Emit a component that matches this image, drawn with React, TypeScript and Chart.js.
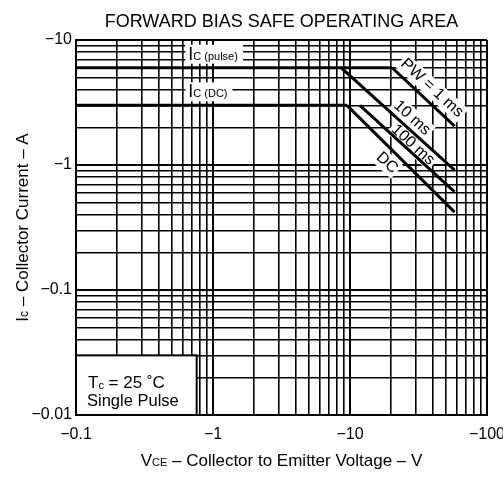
import React, { useEffect, useRef } from 'react';
import { Chart, registerables } from 'chart.js';

Chart.register(...registerables);

const FONT = "'Liberation Sans', Arial, Helvetica, sans-serif";

// ---- text ----
const chartTitle = 'FORWARD BIAS SAFE OPERATING AREA';
const xTickValues = [0.1, 1, 10, 100];
const xTickLabels = ['\u22120.1', '\u22121', '\u221210', '\u2212100'];
const yTickValues = [0.01, 0.1, 1, 10];
const yTickLabels = ['\u22120.01', '\u22120.1', '\u22121', '\u221210'];
const gridMultipliers = [1, 2, 3, 4, 5, 6, 7, 8, 9];

// ---- series (V in volts, A in amperes; magnitudes) ----
const icPulseV = [0.1, 20.3];
const icPulseA = [6, 6];
const icDcV = [0.1, 9.5];
const icDcA = [3, 3];
const pw1msV = [20.3, 58];
const pw1msA = [6, 2.05];
const pw10msV = [8.6, 58];
const pw10msA = [6, 0.91];
const pw100msV = [11.8, 58];
const pw100msA = [3, 0.61];
const dcV = [9.5, 58];
const dcA = [3, 0.42];

// ---- annotation texts ----
const lineLabelTexts = ['PW = 1 ms', '10 ms', '100 ms', 'DC'];
const lineLabelAnchorV = [39.7, 28.4, 28.8, 18.6];
const lineLabelAnchorA = [4.13, 2.38, 1.45, 1.04];

function toPts(vs: number[], as: number[]) {
  return vs.map((v, i) => ({ x: v, y: as[i] }));
}

function gridTicks(min: number, max: number) {
  const out: number[] = [];
  const e0 = Math.round(Math.log10(min));
  const e1 = Math.round(Math.log10(max));
  for (let e = e0; e < e1; e++) {
    for (const m of gridMultipliers) out.push(Number((m * Math.pow(10, e)).toPrecision(6)));
  }
  out.push(max);
  return out;
}

function isDecade(v: number) {
  const l = Math.log10(v);
  return Math.abs(l - Math.round(l)) < 1e-6;
}

function labelFor(values: number[], labels: string[], value: number) {
  const i = values.findIndex((v) => Math.abs(v - value) / v < 1e-6);
  return i >= 0 ? labels[i] : '';
}

type Part = { t: string; size: number; dy?: number };

function partsWidth(ctx: CanvasRenderingContext2D, parts: Part[]) {
  let w = 0;
  for (const p of parts) {
    ctx.font = `${p.size}px ${FONT}`;
    w += ctx.measureText(p.t).width;
  }
  return w;
}

function drawParts(ctx: CanvasRenderingContext2D, parts: Part[], x: number, baseline: number, align: 'left' | 'center') {
  const w = partsWidth(ctx, parts);
  let cx = align === 'center' ? x - w / 2 : x;
  ctx.textAlign = 'left';
  ctx.textBaseline = 'alphabetic';
  ctx.fillStyle = '#000';
  for (const p of parts) {
    ctx.font = `${p.size}px ${FONT}`;
    ctx.fillText(p.t, cx, baseline + (p.dy || 0));
    cx += ctx.measureText(p.t).width;
  }
  return w;
}

const soaText = {
  id: 'soaText',
  beforeDatasetsDraw(chart: any) {
    const { ctx, chartArea } = chart;
    const x = chart.scales.x;
    const y = chart.scales.y;
    ctx.save();

    // Ic labels
    const icParts = (sub: string): Part[] => [
      { t: 'I', size: 18 },
      { t: sub, size: 11, dy: 0 },
    ];
    const lx = x.getPixelForValue(0.66);
    [
      { sub: 'C (pulse)', a: icPulseA[0] },
      { sub: 'C (DC)', a: icDcA[0] },
    ].forEach(({ sub, a }) => {
      const base = y.getPixelForValue(a) - 8;
      const w = partsWidth(ctx, icParts(sub));
      ctx.fillStyle = '#fff';
      ctx.fillRect(lx - 3, base - 15, w + 8, 19);
      drawParts(ctx, icParts(sub), lx, base, 'left');
    });

    // rotated line labels
    const ang = Math.atan2(
      y.getPixelForValue(0.1) - y.getPixelForValue(1),
      x.getPixelForValue(10) - x.getPixelForValue(1)
    );
    lineLabelTexts.forEach((t, i) => {
      const px = x.getPixelForValue(lineLabelAnchorV[i]);
      const py = y.getPixelForValue(lineLabelAnchorA[i]);
      ctx.save();
      ctx.translate(px, py);
      ctx.rotate(ang);
      ctx.font = `16px ${FONT}`;
      const w = ctx.measureText(t).width;
      ctx.fillStyle = '#fff';
      ctx.fillRect(-w / 2 - 2, -9, w + 4, 18);
      ctx.fillStyle = '#000';
      ctx.textAlign = 'center';
      ctx.textBaseline = 'middle';
      ctx.fillText(t, 0, 0);
      ctx.restore();
    });

    // Tc box
    const bl = chartArea.left;
    const br = x.getPixelForValue(0.76);
    const bt = y.getPixelForValue(0.03);
    const bb = chartArea.bottom;
    ctx.fillStyle = '#fff';
    ctx.fillRect(bl, bt, br - bl, bb - bt);
    ctx.strokeStyle = '#000';
    ctx.lineWidth = 2;
    ctx.strokeRect(bl, bt, br - bl, bb - bt);
    drawParts(ctx, [{ t: 'T', size: 17 }, { t: 'c', size: 11, dy: 1 }, { t: ' = 25 \u02DAC', size: 17 }], bl + 12, bt + 33, 'left');
    drawParts(ctx, [{ t: 'Single Pulse', size: 16.5 }], bl + 11, bt + 51, 'left');

    ctx.restore();
  },
  afterDraw(chart: any) {
    const { ctx, chartArea } = chart;
    ctx.save();
    // x title
    const cx = (chartArea.left + chartArea.right) / 2;
    drawParts(
      ctx,
      [
        { t: 'V', size: 17 },
        { t: 'CE', size: 11 },
        { t: ' \u2013 Collector to Emitter Voltage \u2013 V', size: 17 },
      ],
      cx,
      466,
      'center'
    );
    // y title
    const cy = (chartArea.top + chartArea.bottom) / 2;
    ctx.translate(28, cy);
    ctx.rotate(-Math.PI / 2);
    drawParts(
      ctx,
      [
        { t: 'I', size: 17 },
        { t: 'c', size: 12 },
        { t: ' \u2013 Collector Current \u2013 A', size: 17 },
      ],
      0,
      0,
      'center'
    );
    ctx.restore();
  },
};

function gridWidth(ctx: any) {
  const v = ctx && ctx.tick ? ctx.tick.value : 0;
  return v && isDecade(v) ? 2 : 1.6;
}

export default function App() {
  const ref = useRef<HTMLCanvasElement>(null);

  useEffect(() => {
    const canvas = ref.current;
    if (!canvas) return;
    const line = (data: { x: number; y: number }[]) => ({
      data,
      showLine: true,
      borderColor: '#000',
      borderWidth: 3,
      pointRadius: 0,
      fill: false,
      tension: 0,
    });
    const chart = new Chart(canvas, {
      type: 'scatter',
      data: {
        datasets: [
          line(toPts(icPulseV, icPulseA)),
          line(toPts(icDcV, icDcA)),
          line(toPts(pw1msV, pw1msA)),
          line(toPts(pw10msV, pw10msA)),
          line(toPts(pw100msV, pw100msA)),
          line(toPts(dcV, dcA)),
        ] as any,
      },
      options: {
        animation: false,
        responsive: false,
        devicePixelRatio: 1,
        layout: { padding: { left: 0, right: 16, top: 0, bottom: 0 } },
        plugins: {
          legend: { display: false },
          tooltip: { enabled: false },
          title: {
            display: true,
            text: chartTitle,
            fullSize: false,
            color: '#000',
            font: { family: FONT, size: 18, weight: 'normal' as any },
            padding: { top: 11, bottom: 7.4 },
          },
        },
        scales: {
          x: {
            type: 'logarithmic',
            position: 'bottom',
            min: 0.1,
            max: 100,
            afterBuildTicks: (s: any) => {
              s.ticks = gridTicks(0.1, 100).map((v) => ({ value: v }));
            },
            afterFit: (s: any) => {
              s.height = 62;
              s.paddingLeft = 0;
              s.paddingRight = 0;
            },
            grid: { color: '#000', lineWidth: gridWidth as any, drawTicks: false },
            border: { display: true, color: '#000', width: 2 },
            ticks: {
              autoSkip: false,
              maxRotation: 0,
              minRotation: 0,
              padding: 10,
              color: '#000',
              font: { family: FONT, size: 16 },
              callback: (v: any) => labelFor(xTickValues, xTickLabels, Number(v)),
            },
          },
          y: {
            type: 'logarithmic',
            position: 'left',
            min: 0.01,
            max: 10,
            afterBuildTicks: (s: any) => {
              s.ticks = gridTicks(0.01, 10).map((v) => ({ value: v }));
            },
            afterFit: (s: any) => {
              s.width = 76;
              s.paddingTop = 0;
              s.paddingBottom = 0;
            },
            grid: { color: '#000', lineWidth: gridWidth as any, drawTicks: false },
            border: { display: true, color: '#000', width: 2 },
            ticks: {
              autoSkip: false,
              padding: 4,
              color: '#000',
              font: { family: FONT, size: 16 },
              callback: (v: any) => labelFor(yTickValues, yTickLabels, Number(v)),
            },
          },
        },
      },
      plugins: [soaText],
    } as any);
    return () => chart.destroy();
  }, []);

  return (
    <div style={{ position: 'absolute', left: 0, top: 0, width: 503, height: 477, background: '#fff' }}>
      <canvas ref={ref} width={503} height={477} style={{ display: 'block', width: 503, height: 477 }} />
    </div>
  );
}
